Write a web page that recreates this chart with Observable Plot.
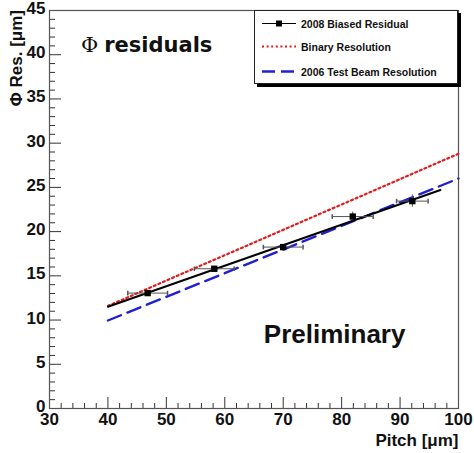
<!DOCTYPE html>
<html>
<head>
<meta charset="utf-8">
<script src="https://cdn.jsdelivr.net/npm/d3@7"></script>
<script src="https://cdn.jsdelivr.net/npm/@observablehq/plot@0.6"></script>
<style>
  html, body { margin: 0; padding: 0; background: #fff; }
  #wrap { position: relative; width: 474px; height: 453px; overflow: hidden; }
  #title { position: absolute; left: 81px; top: 33px; font: bold 21px "DejaVu Sans", sans-serif; color: #111; white-space: nowrap; }
  #title .phi { font-family: "DejaVu Serif", serif; font-weight: normal; margin-right: 6px; }
  #ylabel { position: absolute; left: 17px; top: 10px; font: bold 17px "Liberation Sans", Arial, sans-serif; color: #111; white-space: nowrap;
            transform-origin: 0 0; transform: translate(-10px, 0) rotate(-90deg) translate(-100%, 0); line-height: 20px; }
  #legend { position: absolute; left: 254px; top: 10px; width: 202px; height: 72px; border: 1px solid #222; background: #fff; box-shadow: 3px 3px 0 #000; }
</style>
</head>
<body>
<div id="wrap"></div>
<script>
// Measured points (2008 biased residual)
const pitch = [46.8, 58.2, 70.0, 81.9, 92.1];
const residual = [13.05, 15.8, 18.25, 21.7, 23.45];
const pitchErr = [3.4, 3.4, 3.4, 3.5, 2.7];
const residualErr = [0.2, 0.2, 0.25, 0.5, 0.7];

// Fit line through the 2008 points
const fitX = [40, 96.9];
const fitY = [11.5, 24.7];

// Binary resolution line
const binX = [40, 100];
const binY = [11.6, 28.8];

// 2006 test beam resolution line
const tbX = [40, 100];
const tbY = [9.95, 26.0];

// Axis ticks
const xMajor = [30, 40, 50, 60, 70, 80, 90, 100];
const xMinor = d3.range(30, 100.01, 2).filter(v => v % 10 !== 0);
const yMajor = [0, 5, 10, 15, 20, 25, 30, 35, 40, 45];
const yMinor = d3.range(0, 45.01, 1).filter(v => v % 5 !== 0);

const legendLabels = ["2008 Biased Residual", "Binary Resolution", "2006 Test Beam Resolution"];

const points = pitch.map((x, i) => ({x, y: residual[i], xe: pitchErr[i], ye: residualErr[i]}));
const fit = fitX.map((x, i) => ({x, y: fitY[i]}));
const bin = binX.map((x, i) => ({x, y: binY[i]}));
const tb = tbX.map((x, i) => ({x, y: tbY[i]}));

const capV = {draw(c, size) { const h = Math.sqrt(size) / 2; c.moveTo(0, -h); c.lineTo(0, h); }};

const axisColor = "#333";

const chart = Plot.plot({
  width: 474,
  height: 453,
  marginLeft: 49,
  marginRight: 16,
  marginTop: 10,
  marginBottom: 45,
  style: {fontFamily: "'Liberation Sans', Arial, sans-serif", fontSize: "17px", fontWeight: "bold", color: "#111", background: "#fff"},
  x: {domain: [30, 100]},
  y: {domain: [0, 45]},
  marks: [
    // y axis: labels, major and minor ticks (ticks inside the frame)
    Plot.axisY(yMajor, {anchor: "left", tickSize: 0, tickPadding: 4, dy: -2, label: null, fontSize: 17, fontWeight: "bold"}),
    Plot.axisY(yMajor, {anchor: "left", tickSize: 12, dx: 12, text: null, label: null, stroke: axisColor}),
    Plot.axisY(yMinor, {anchor: "left", tickSize: 6, dx: 6, text: null, label: null, stroke: axisColor}),
    // x axis
    Plot.axisX(xMajor, {anchor: "bottom", tickSize: 0, tickPadding: 4, label: null, fontSize: 17, fontWeight: "bold"}),
    Plot.axisX(xMajor, {anchor: "bottom", tickSize: 11, dy: -11, text: null, label: null, stroke: axisColor}),
    Plot.axisX(xMinor, {anchor: "bottom", tickSize: 5, dy: -5, text: null, label: null, stroke: axisColor}),
    Plot.frame({stroke: "#555", strokeWidth: 1.2}),
    // axis title (x)
    Plot.text(["Pitch [μm]"], {frameAnchor: "bottom-right", textAnchor: "end", lineAnchor: "bottom", dy: 37, fontSize: 17, fontWeight: "bold"}),
    Plot.text(["Preliminary"], {x: 78.8, y: 8.4, textAnchor: "middle", fontSize: 26, fontWeight: "bold"}),
    // resolution lines
    Plot.line(bin, {x: "x", y: "y", stroke: "#e41a1c", strokeWidth: 2.2, strokeDasharray: "2,3"}),
    Plot.line(tb, {x: "x", y: "y", stroke: "#1f1fd6", strokeWidth: 2.4, strokeDasharray: "14,7"}),
    Plot.line(fit, {x: "x", y: "y", stroke: "#000", strokeWidth: 2}),
    // error bars
    Plot.ruleY(points, {y: "y", x1: d => d.x - d.xe, x2: d => d.x + d.xe, stroke: "#555", strokeWidth: 1}),
    Plot.ruleX(points, {x: "x", y1: d => d.y - d.ye, y2: d => d.y + d.ye, stroke: "#555", strokeWidth: 1}),
    Plot.dot(points, {x: d => d.x - d.xe, y: "y", symbol: capV, r: 2.6, stroke: "#555", fill: "none"}),
    Plot.dot(points, {x: d => d.x + d.xe, y: "y", symbol: capV, r: 2.6, stroke: "#555", fill: "none"}),
    Plot.dot(points, {x: "x", y: "y", symbol: "square", r: 3.6, fill: "#000", stroke: "none"})
  ]
});

const wrap = document.getElementById("wrap");
wrap.appendChild(chart);

const title = document.createElement("div");
title.id = "title";
title.innerHTML = '<span class="phi">Φ</span>residuals';
wrap.appendChild(title);

const ylabel = document.createElement("div");
ylabel.id = "ylabel";
ylabel.textContent = "Φ Res. [μm]";
wrap.appendChild(ylabel);

// Legend box
const legend = document.createElement("div");
legend.id = "legend";
const ns = "http://www.w3.org/2000/svg";
const lsvg = document.createElementNS(ns, "svg");
lsvg.setAttribute("width", 202);
lsvg.setAttribute("height", 72);
lsvg.style.display = "block";
const rowsY = [12.5, 35.5, 60.5];
const styles = [
  {stroke: "#000", width: 1, dash: null, marker: true},
  {stroke: "#e41a1c", width: 2, dash: "2,2.6", marker: false},
  {stroke: "#1f1fd6", width: 2.4, dash: "13,6", marker: false}
];
legendLabels.forEach((lab, i) => {
  const s = styles[i];
  const ln = document.createElementNS(ns, "line");
  ln.setAttribute("x1", 7); ln.setAttribute("x2", 41);
  ln.setAttribute("y1", rowsY[i]); ln.setAttribute("y2", rowsY[i]);
  ln.setAttribute("stroke", s.stroke); ln.setAttribute("stroke-width", s.width);
  if (s.dash) ln.setAttribute("stroke-dasharray", s.dash);
  lsvg.appendChild(ln);
  if (s.marker) {
    const r = document.createElementNS(ns, "rect");
    r.setAttribute("x", 21); r.setAttribute("y", rowsY[i] - 3);
    r.setAttribute("width", 6); r.setAttribute("height", 6);
    r.setAttribute("fill", "#000");
    lsvg.appendChild(r);
  }
  const t = document.createElementNS(ns, "text");
  t.setAttribute("x", 46); t.setAttribute("y", rowsY[i] + 4);
  t.setAttribute("font-family", "'Liberation Sans', Arial, sans-serif");
  t.setAttribute("font-weight", "bold");
  t.setAttribute("font-size", "10.5");
  t.setAttribute("fill", "#111");
  t.textContent = lab;
  lsvg.appendChild(t);
});
legend.appendChild(lsvg);
wrap.appendChild(legend);
</script>
</body>
</html>
